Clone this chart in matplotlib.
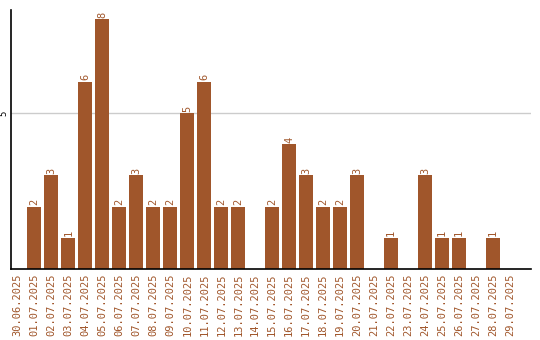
import matplotlib
matplotlib.use("Agg")
import matplotlib.pyplot as plt

# Daily counts, 30.06.2025 - 29.07.2025
dates = ["30.06.2025", "01.07.2025", "02.07.2025", "03.07.2025", "04.07.2025",
         "05.07.2025", "06.07.2025", "07.07.2025", "08.07.2025", "09.07.2025",
         "10.07.2025", "11.07.2025", "12.07.2025", "13.07.2025", "14.07.2025",
         "15.07.2025", "16.07.2025", "17.07.2025", "18.07.2025", "19.07.2025",
         "20.07.2025", "21.07.2025", "22.07.2025", "23.07.2025", "24.07.2025",
         "25.07.2025", "26.07.2025", "27.07.2025", "28.07.2025", "29.07.2025"]
counts = [0, 2, 3, 1, 6, 8, 2, 3, 2, 2,
          5, 6, 2, 2, 0, 2, 4, 3, 2, 2,
          3, 0, 1, 0, 3, 1, 1, 0, 1, 0]

bar_color = "#A0562B"
mono = "DejaVu Sans Mono"

fig = plt.figure(figsize=(5.4, 3.4), dpi=100)
ax = fig.add_axes([11 / 540, 71 / 340, 520 / 540, 259 / 340])

x = list(range(len(dates)))
bars = ax.bar(x, counts, width=0.82, color=bar_color, zorder=2)

# value labels above the bars (skip zeros)
for xi, c in zip(x, counts):
    if c > 0:
        ax.annotate(str(c), (xi, c), xytext=(0, 1), textcoords="offset points",
                    rotation=90, ha="center", va="bottom",
                    fontsize=7.5, family=mono, color=bar_color)

# the plot area runs a bit past the last day
ax.set_xlim(-0.38, len(dates) + 0.24)
ax.set_ylim(0, 8.3)
ax.set_yticks([5])
ax.set_yticklabels(["5"], rotation=90, va="center", fontsize=6.5, family=mono)
ax.yaxis.grid(True, color="#cccccc", linewidth=1, zorder=0)
ax.set_xticks(x)
ax.set_xticklabels(dates, rotation=90, fontsize=7.5, family=mono, color=bar_color)
ax.tick_params(axis="both", length=0, pad=3)
ax.tick_params(axis="y", pad=2)

for side in ["top", "right"]:
    ax.spines[side].set_visible(False)
ax.spines["left"].set_linewidth(1.2)
ax.spines["bottom"].set_linewidth(1.2)

fig.savefig("out.png", dpi=100)
